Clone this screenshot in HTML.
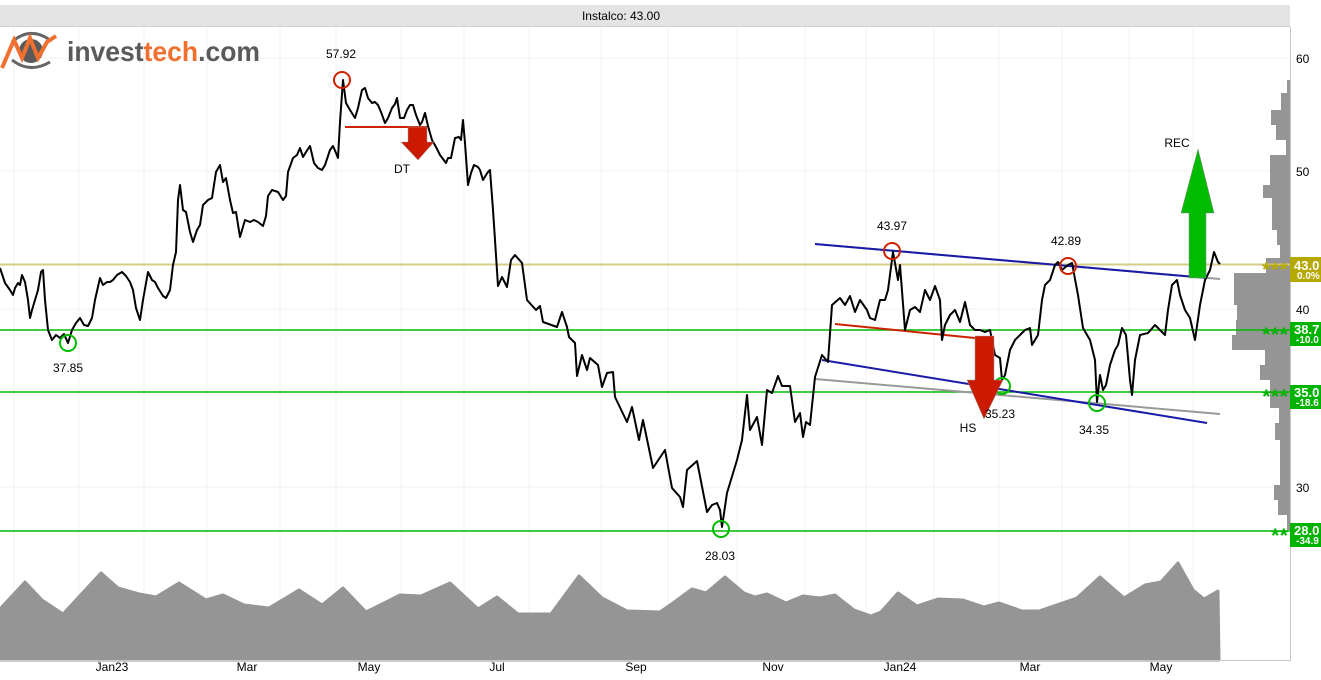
<!DOCTYPE html>
<html><head><meta charset="utf-8"><style>
html,body{margin:0;padding:0;background:#fff;}
svg{display:block;font-family:"Liberation Sans",sans-serif;}
</style></head><body>
<svg width="1321" height="680" viewBox="0 0 1321 680" xmlns="http://www.w3.org/2000/svg">
<rect x="0" y="5" width="1290" height="21" fill="#e4e4e4"/>
<line x1="0" y1="26.5" x2="1290" y2="26.5" stroke="#cfcfcf"/>
<text x="621" y="20" font-size="12" text-anchor="middle" fill="#000">Instalco: 43.00</text>
<g stroke="#f0f0f0" stroke-width="1">
<line x1="14" y1="27" x2="14" y2="660"/><line x1="79" y1="27" x2="79" y2="660"/><line x1="144" y1="27" x2="144" y2="660"/><line x1="207" y1="27" x2="207" y2="660"/><line x1="280" y1="27" x2="280" y2="660"/><line x1="336" y1="27" x2="336" y2="660"/><line x1="401" y1="27" x2="401" y2="660"/><line x1="464" y1="27" x2="464" y2="660"/><line x1="529" y1="27" x2="529" y2="660"/><line x1="601" y1="27" x2="601" y2="660"/><line x1="668" y1="27" x2="668" y2="660"/><line x1="737" y1="27" x2="737" y2="660"/><line x1="805" y1="27" x2="805" y2="660"/><line x1="866" y1="27" x2="866" y2="660"/><line x1="934" y1="27" x2="934" y2="660"/><line x1="999" y1="27" x2="999" y2="660"/><line x1="1062" y1="27" x2="1062" y2="660"/><line x1="1129" y1="27" x2="1129" y2="660"/><line x1="1193" y1="27" x2="1193" y2="660"/>
<line x1="0" y1="58" x2="1290" y2="58"/><line x1="0" y1="171" x2="1290" y2="171"/><line x1="0" y1="309" x2="1290" y2="309"/><line x1="0" y1="487" x2="1290" y2="487"/>
</g>
<!-- logo -->
<g>
<path d="M12,42 Q30,26 50,40" fill="none" stroke="#666" stroke-width="3"/>
<path d="M12,60 Q30,74 50,62" fill="none" stroke="#666" stroke-width="3"/>
<circle cx="31" cy="51" r="12" fill="#5a5a5a"/>
<polyline points="2,68 14,40 22,58 30,38 38,58 47,42 56,36" fill="none" stroke="#f07030" stroke-width="4"/>
<text x="67" y="61" font-size="28" font-weight="bold" fill="#5a5a5a" textLength="193" lengthAdjust="spacingAndGlyphs">invest<tspan fill="#f07030">tech</tspan>.com</text>
</g>
<!-- volume -->
<path fill="#959595" stroke="#959595" stroke-width="3" stroke-linejoin="round" d="M0,660 L0,609 L25,582 L42,600 L63,614 L101,573 L118,588 L139,594 L156,597 L179,583 L206,600 L223,595 L244,605 L269,608 L299,590 L322,605 L343,588 L366,612 L400,595 L421,596 L450,583 L478,609 L497,597 L518,614 L551,614 L579,576 L602,598 L627,611 L660,612 L673,603 L692,589 L706,593 L725,577 L744,593 L755,597 L767,594 L786,603 L803,596 L820,598 L835,595 L854,610 L871,616 L881,612 L898,593 L917,606 L938,599 L963,600 L984,607 L999,603 L1022,611 L1039,611 L1077,598 L1100,577 L1124,598 L1145,585 L1161,582 L1178,563 L1193,590 L1204,599 L1218,591 L1219,660 Z"/>
<!-- volume profile -->
<path fill="#959595" d="M1290,80 L1287,80 L1287,93 L1281,93 L1281,110 L1271,110 L1271,125 L1276,125 L1276,140 L1286,140 L1286,155 L1270,155 L1270,185 L1263,185 L1263,198 L1272,198 L1272,230 L1277,230 L1277,245 L1280,245 L1280,258 L1266,258 L1266,273 L1234,273 L1234,305 L1237,305 L1237,320 L1236,320 L1236,335 L1232,335 L1232,350 L1265,350 L1265,365 L1260,365 L1260,380 L1270,380 L1270,408 L1279,408 L1279,423 L1275,423 L1275,440 L1280,440 L1280,485 L1274,485 L1274,500 L1278,500 L1278,515 L1287,515 L1287,530 L1290,530 Z"/>
<line x1="1290.5" y1="27" x2="1290.5" y2="660" stroke="#c8c8c8"/>
<line x1="0" y1="660.5" x2="1291" y2="660.5" stroke="#c8c8c8"/>
<!-- horizontal lines -->
<line x1="0" y1="264.5" x2="1290" y2="264.5" stroke="#d4cc88" stroke-width="2"/>
<line x1="0" y1="330" x2="1290" y2="330" stroke="#00bb00" stroke-width="1.5"/>
<line x1="0" y1="392" x2="1290" y2="392" stroke="#00bb00" stroke-width="1.5"/>
<line x1="0" y1="531" x2="1290" y2="531" stroke="#00bb00" stroke-width="1.5"/>
<!-- trend lines -->
<line x1="815" y1="379" x2="1220" y2="414" stroke="#999" stroke-width="2"/>
<line x1="815" y1="244" x2="1220" y2="279" stroke="#999" stroke-width="2"/>
<line x1="815" y1="244" x2="1207" y2="278" stroke="#1a1aa8" stroke-width="2"/>
<line x1="822" y1="360" x2="1207" y2="423" stroke="#1a1aa8" stroke-width="2"/>
<line x1="835" y1="324" x2="975" y2="338" stroke="#cc2200" stroke-width="2"/>
<line x1="345" y1="127" x2="427" y2="127" stroke="#cc2200" stroke-width="2"/>
<!-- price -->
<polyline fill="none" stroke="#000" stroke-width="2" stroke-linejoin="round" points="0,268 5,283 10,290 13,295 15,288 18,283 20,285 22,275 25,282 28,300 30,318 32,310 35,300 38,290 41,272 43,270 45,300 48,330 52,340 56,335 60,338 64,334 68,343 72,330 76,323 80,318 84,325 88,326 92,318 95,300 100,278 103,285 107,282 110,282 113,280 117,275 122,272 126,276 130,282 133,290 136,308 140,320 143,300 148,272 152,280 155,282 158,288 163,296 166,298 170,290 173,265 176,252 178,200 180,185 183,210 186,212 190,232 193,242 197,230 200,225 203,205 208,200 212,198 216,172 220,165 223,182 226,178 230,200 233,213 236,212 240,237 245,220 250,222 254,220 258,222 263,226 266,216 268,196 272,190 278,192 283,200 286,196 288,172 293,158 297,155 300,148 303,157 306,152 310,146 314,163 318,168 322,170 325,165 330,150 333,146 336,153 338,158 340,122 343,80 346,103 350,110 355,118 358,108 362,90 365,88 368,98 372,103 375,102 378,105 381,112 385,123 388,118 392,108 395,104 397,98 400,118 404,118 407,110 410,105 413,105 416,115 420,125 422,122 425,113 428,126 432,140 436,147 440,155 446,163 448,158 451,158 455,138 459,137 461,140 463,120 465,143 468,185 471,173 474,165 478,167 480,170 483,180 486,175 488,172 490,170 493,210 495,240 498,286 502,277 507,287 511,260 515,255 522,263 527,300 536,310 540,306 543,322 557,327 562,312 567,327 569,337 575,343 577,376 582,355 587,370 590,358 598,365 602,387 607,373 613,372 615,397 627,422 632,407 639,440 643,420 653,468 665,450 672,488 680,497 683,507 687,470 697,461 707,512 712,505 717,503 720,510 722,527 727,493 737,460 742,440 747,395 750,430 757,417 762,445 767,390 772,393 778,376 782,386 790,386 795,422 800,413 803,437 806,422 810,425 815,377 822,355 828,362 832,305 840,298 845,305 850,296 855,312 860,300 867,310 870,318 875,320 880,300 885,300 888,290 893,252 898,280 900,265 905,330 910,310 915,307 920,312 925,290 930,300 935,286 940,300 942,340 945,325 950,315 955,310 960,322 965,302 970,325 975,330 980,330 985,332 990,330 995,355 1000,358 1002,380 1005,375 1010,350 1015,340 1020,335 1025,330 1030,328 1032,345 1038,335 1042,300 1045,285 1050,280 1055,265 1058,262 1062,270 1068,265 1072,263 1078,295 1083,328 1090,340 1095,360 1097,402 1100,375 1103,390 1106,385 1110,365 1115,350 1118,345 1122,328 1126,335 1130,380 1132,395 1135,360 1140,335 1148,333 1155,325 1165,335 1168,310 1172,285 1177,280 1180,295 1185,310 1190,318 1195,340 1200,305 1205,280 1210,270 1214,252 1218,262 1220,264"/>
<!-- circles -->
<g fill="none" stroke-width="2">
<circle cx="342" cy="80" r="8" stroke="#cc2200"/>
<circle cx="892" cy="251" r="8" stroke="#cc2200"/>
<circle cx="1068" cy="266" r="8" stroke="#cc2200"/>
<circle cx="68" cy="343" r="8" stroke="#00bb00"/>
<circle cx="721" cy="529" r="8" stroke="#00bb00"/>
<circle cx="1002" cy="386" r="8" stroke="#00bb00"/>
<circle cx="1097" cy="403" r="8" stroke="#00bb00"/>
</g>
<!-- arrows -->
<polygon points="408,127 427,127 427,142 434,142 418,160 401,142 408,142" fill="#cc1a00" stroke="#999" stroke-width="0.5"/>
<polygon points="975,336 994,336 994,380 1003,380 984,419 967,380 975,380" fill="#cc1a00" stroke="#999" stroke-width="0.5"/>
<polygon points="1189,278 1206,278 1206,213 1214,213 1198,149 1181,213 1189,213" fill="#00bb00" stroke="#888" stroke-width="0.5"/>
<!-- labels -->
<g font-size="12" fill="#000" text-anchor="middle">
<text x="341" y="58">57.92</text>
<text x="402" y="173">DT</text>
<text x="68" y="372">37.85</text>
<text x="720" y="560">28.03</text>
<text x="892" y="230">43.97</text>
<text x="1066" y="245">42.89</text>
<text x="1000" y="418">35.23</text>
<text x="1094" y="434">34.35</text>
<text x="968" y="432">HS</text>
<text x="1177" y="147">REC</text>
</g>
<!-- y axis labels -->
<g font-size="12" fill="#000">
<text x="1296" y="63">60</text>
<text x="1296" y="176">50</text>
<text x="1296" y="314">40</text>
<text x="1296" y="492">30</text>
</g>
<!-- price boxes -->
<g font-weight="bold" fill="#fff">
<rect x="1290" y="257" width="31" height="25" fill="#b5a800"/>
<text x="1294" y="270" font-size="13">43.0</text><text x="1297" y="279" font-size="10">0.0%</text>
<rect x="1290" y="322" width="31" height="24" fill="#00b300"/>
<text x="1294" y="334" font-size="13">38.7</text><text x="1296" y="343" font-size="10">-10.0</text>
<rect x="1290" y="385" width="31" height="24" fill="#00b300"/>
<text x="1294" y="397" font-size="13">35.0</text><text x="1296" y="406" font-size="10">-18.6</text>
<rect x="1290" y="523" width="31" height="24" fill="#00b300"/>
<text x="1294" y="535" font-size="13">28.0</text><text x="1296" y="544" font-size="10">-34.9</text>
</g>
<g font-size="19" font-weight="bold">
<text x="1262" y="276" fill="#b5a800" textLength="26" lengthAdjust="spacingAndGlyphs">***</text>
<text x="1262" y="341" fill="#00b300" textLength="26" lengthAdjust="spacingAndGlyphs">***</text>
<text x="1262" y="403" fill="#00b300" textLength="26" lengthAdjust="spacingAndGlyphs">***</text>
<text x="1271" y="542" fill="#00b300" textLength="17" lengthAdjust="spacingAndGlyphs">**</text>
</g>
<!-- x axis labels -->
<g font-size="12" fill="#000" text-anchor="middle">
<text x="112" y="671">Jan23</text>
<text x="247" y="671">Mar</text>
<text x="369" y="671">May</text>
<text x="497" y="671">Jul</text>
<text x="636" y="671">Sep</text>
<text x="773" y="671">Nov</text>
<text x="900" y="671">Jan24</text>
<text x="1030" y="671">Mar</text>
<text x="1161" y="671">May</text>
</g>
</svg>
</body></html>
